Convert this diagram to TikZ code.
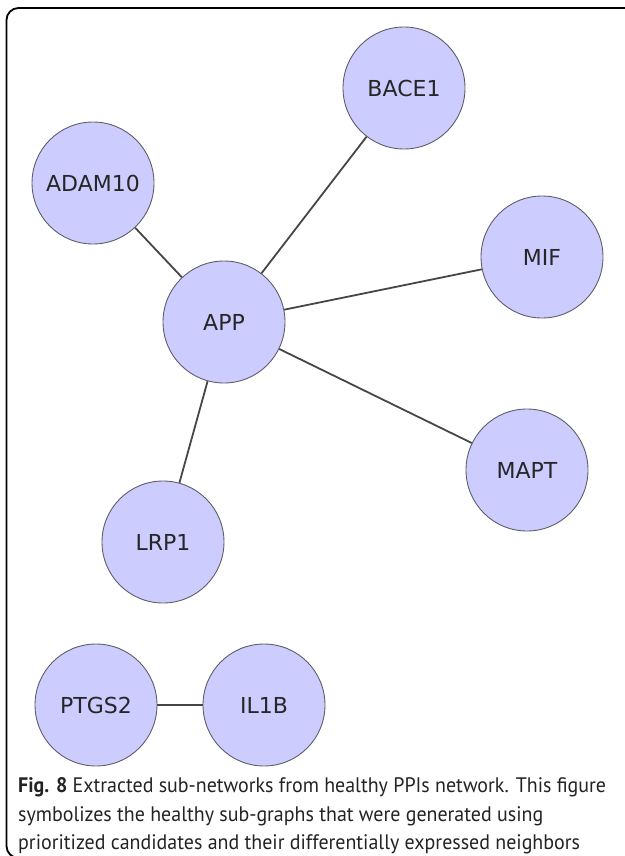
\documentclass[tikz,border=0pt]{standalone}
\usepackage{fontspec}
\setmainfont{PT Sans}[FakeStretch=0.95]
\newfontfamily\genefont{DejaVu Sans}
\definecolor{genefill}{RGB}{204,204,255}
\definecolor{generim}{RGB}{95,95,105}
\definecolor{linkgray}{RGB}{70,70,70}
\definecolor{captext}{RGB}{35,35,35}
\begin{document}
\begin{tikzpicture}[x=1pt,y=-1pt,
    gene/.style={circle,draw=generim,fill=genefill,line width=0.9pt,
      minimum size=122pt,inner sep=0pt,text=black!85,
      font=\genefont\fontsize{22}{26}\selectfont},
    caption/.style={anchor=base west,inner sep=0pt,text=captext,
      font=\fontsize{21}{25}\selectfont}]
  \useasboundingbox (0,0) rectangle (624,856);
  % frame, cut off at the right and bottom
  \draw[line width=1.8pt,rounded corners=12pt]
    (636,8) -- (6.5,8) -- (6.5,858) -- (636,858);
  \draw
    (224,322) node[gene] (APP){APP}
    (404,88) node[gene] (BACE1){BACE1}
    (93,183) node[gene] (ADAM10){ADAM10}
    (542,257) node[gene] (MIF){MIF}
    (527,470) node[gene] (MAPT){MAPT}
    (163,542) node[gene] (LRP1){LRP1}
    (96,705) node[gene] (PTGS2){PTGS2}
    (264,705) node[gene] (IL1B){IL1B};
  \begin{scope}[linkgray,line width=1.8pt]
    \draw (APP) to (BACE1);
    \draw (APP) to (ADAM10);
    \draw (APP) to (MIF);
    \draw (APP) to (MAPT);
    \draw (APP) to (LRP1);
    \draw (PTGS2) to (IL1B);
  \end{scope}
  \node[caption] (cap1) at (18,792)
    {\textbf{Fig. 8} Extracted sub-networks from healthy PPIs network. This figure};
  \node[caption] (cap2) at (18,821)
    {symbolizes the healthy sub-graphs that were generated using};
  \node[caption] (cap3) at (18,849)
    {prioritized candidates and their differentially expressed neighbors};
\end{tikzpicture}
\end{document}
